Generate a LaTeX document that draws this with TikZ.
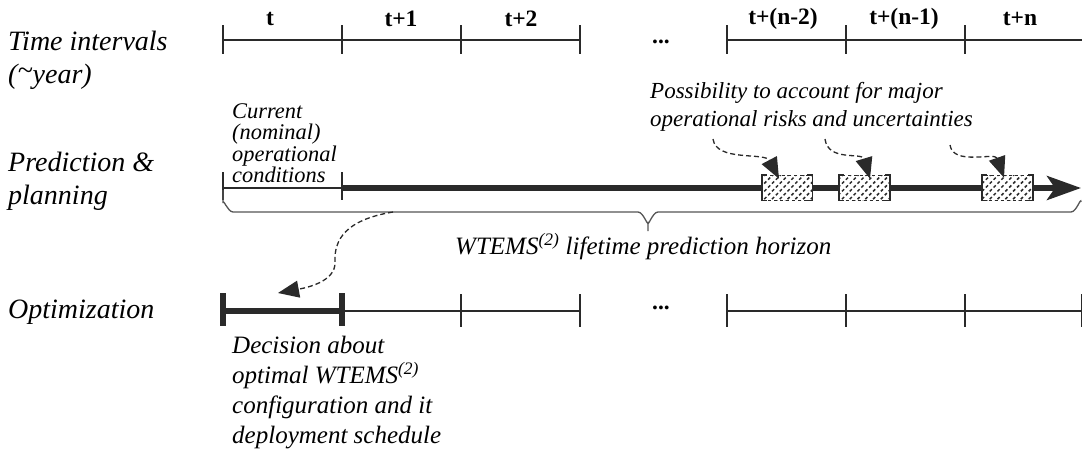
\documentclass[tikz,border=0pt]{standalone}
\usepackage{fontspec}
\setmainfont{Liberation Serif}
\usetikzlibrary{arrows.meta,patterns.meta}
\definecolor{linec}{HTML}{2A2A2A}
\definecolor{bracec}{HTML}{555555}
\begin{document}
\begin{tikzpicture}[x=1pt,y=-1pt,
  lbl/.style={font=\fontsize{28}{33}\selectfont\itshape,anchor=west,align=left,inner sep=0pt},
  ivl/.style={font=\fontsize{23.5}{26}\selectfont\bfseries,inner sep=0pt},
  note/.style={font=\itshape,anchor=west,align=left,inner sep=0pt},
  tl/.style={draw=linec,line width=1.8pt},
  thk/.style={draw=linec,line width=5.5pt},
  hbox/.style={rectangle,minimum width=50pt,minimum height=25pt,inner sep=0pt,
    preaction={fill=white},pattern={Lines[angle=45,distance=5.5pt,line width=1.5pt]},
    pattern color=linec,draw=linec,dashed,line width=0.6pt},
  darr/.style={draw=linec,line width=1.3pt,dash pattern=on 5pt off 3pt,
    -{Triangle[length=21pt,width=17pt]}},
]
\useasboundingbox (0,0) rectangle (1082,450);

% left labels
\node[lbl] (lt) at (8,60) {Time intervals\\(\raisebox{0.25ex}{\textasciitilde}year)};
\node[lbl] (lp) at (8,181) {Prediction \&\\planning};
\node[lbl] (lo) at (8,312) {Optimization};

% timelines: named points
\foreach \n/\x in {a/223,b/342,c/461,d/580,e/727,f/846,g/965,h/1082}{
  \coordinate (T\n) at (\x,40);
  \coordinate (M\n) at (\x,188);
  \coordinate (B\n) at (\x,311);
}
\draw[tl] (Ta) -- (Td);
\draw[tl] (Te) -- (Th);
\foreach \n in {a,b,c,d,e,f,g}{
  \draw[tl] ([yshift=15pt]T\n) -- ([yshift=-14pt]T\n);
}
\node[ivl] (i1) at (270,19) {t};
\node[ivl] (i2) at (401,19) {t+1};
\node[ivl] (i3) at (521,19) {t+2};
\node[ivl] (dots1) at (661,42) {...};
\node[ivl] (i4) at (783,19) {t+(n-2)};
\node[ivl] (i5) at (904,19) {t+(n-1)};
\node[ivl] (i6) at (1020,19) {t+n};

% prediction row
\draw[tl] (Ma) -- (Mb);
\draw[tl] ([yshift=16pt]Ma) -- ([yshift=-12pt]Ma);
\draw[tl] ([yshift=16pt]Mb) -- ([yshift=-12pt]Mb);
\coordinate (Mend) at (1081,188);
\draw[thk,-{Stealth[length=34pt,width=24pt,inset=8pt]}] (Mb) -- (Mend);

\node[hbox] (h1) at (787,187.5) {};
\node[hbox] (h2) at (864.5,187.5) {};
\node[hbox] (h3) at (1007.5,187.5) {};
\foreach \h in {h1,h2,h3}{
  \draw[draw=linec,line width=1.6pt] ([xshift=5pt]\h.north west) -- (\h.north west) -- (\h.south west) -- ([xshift=5pt]\h.south west);
  \draw[draw=linec,line width=1.6pt] ([xshift=-5pt]\h.north east) -- (\h.north east) -- (\h.south east) -- ([xshift=-5pt]\h.south east);
}

% brace
\draw[draw=bracec,line width=1.3pt] (223,190) -- (223,203) to[out=90,in=180] (233,212) -- (638,212)
  to[out=0,in=-90] (648,222) -- (648,231);
\draw[draw=bracec,line width=1.3pt] (648,222) to[out=-90,in=180] (658,212) -- (1071,212)
  to[out=0,in=90] (1081,202);
\coordinate (bs) at (393,212);

\node[note,font=\fontsize{25}{30}\selectfont\itshape] (hor) at (455,247) {WTEMS\textsuperscript{(2)} lifetime prediction horizon};

% notes
\node[note,font=\fontsize{22.4}{21.5}\selectfont\itshape] (cur) at (232,143) {Current\\(nominal)\\operational\\conditions};
\node[note,font=\fontsize{23}{28}\selectfont\itshape] (pos) at (650,107) {Possibility to account for major\\operational risks and uncertainties};
\node[note,font=\fontsize{25}{30}\selectfont\itshape] (dec) at (232,393) {Decision about\\optimal WTEMS\textsuperscript{(2)}\\configuration and it\\deployment schedule};

% arrows from note to hatched boxes
\coordinate (s1) at (713,139);
\coordinate (s2) at (825,139);
\coordinate (s3) at (950,145);
\draw[darr] (s1) .. controls (716,162) and (765,152) .. ([xshift=-8pt,yshift=-4pt]h1.north);
\draw[darr] (s2) .. controls (828,162) and (862,152) .. ([xshift=5.5pt,yshift=-4pt]h2.north);
\draw[darr] (s3) .. controls (953,166) and (995,152) .. ([xshift=-3.5pt,yshift=-3pt]h3.north);

% optimization row
\draw[tl] (Bb) -- (Bd);
\draw[tl] (Be) -- (Bh);
\draw[thk] (Ba) -- (Bb);
\draw[draw=linec,line width=6pt] ([yshift=18pt]Ba) -- ([yshift=-15pt]Ba);
\draw[draw=linec,line width=6pt] ([yshift=18pt]Bb) -- ([yshift=-15pt]Bb);
\foreach \n in {c,d,e,f,g}{
  \draw[tl] ([yshift=17pt]B\n) -- ([yshift=-16pt]B\n);
}
\draw[tl] ([yshift=17pt]Bh) -- ([yshift=-16pt]Bh);
\node[ivl] (dots2) at (661,308) {...};

% arrow from brace to optimization
\coordinate (dt) at (278,293);
\draw[darr] (bs) .. controls (345,220) and (334,240) .. (335,262) .. controls (336,282) and (305,288) .. (dt);
\end{tikzpicture}
\end{document}
